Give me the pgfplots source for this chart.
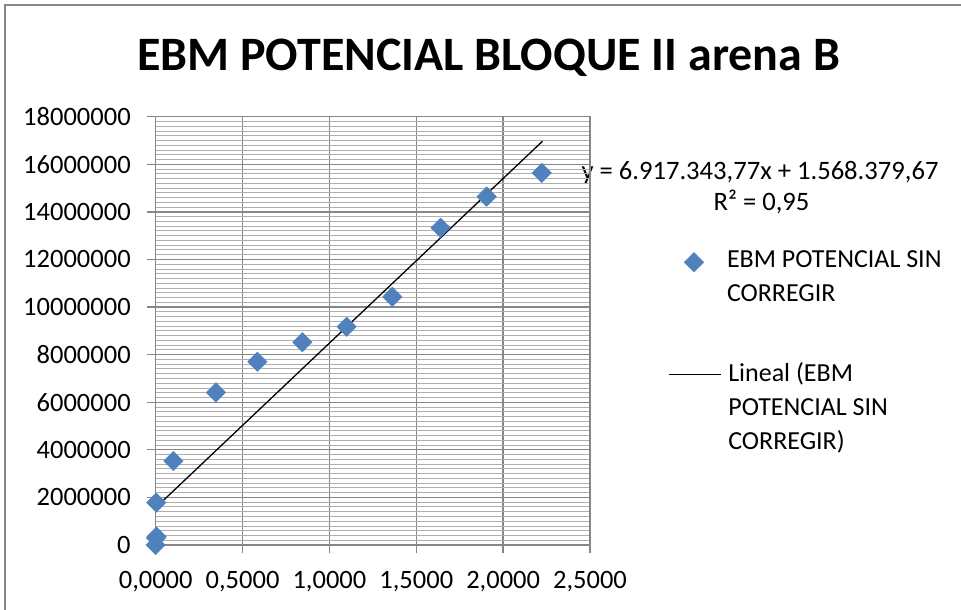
\documentclass[border=0pt]{standalone}
\usepackage{pgfplots}
\pgfplotsset{compat=1.18}
\usepackage{fontspec}
\setmainfont{Carlito}
\definecolor{xlblue}{RGB}{79,129,189}
\definecolor{xlgrid}{RGB}{134,134,134}
\definecolor{xlminor}{RGB}{175,175,175}
\pgfplotsset{
  dotlegend/.style={legend image code/.code={%
    \path[draw=none, fill=none] (0pt,5.5pt) (52pt,5.5pt);
    \draw[mark repeat=2, mark phase=2, ##1] plot coordinates {(0pt,5.5pt) (26pt,5.5pt) (52pt,5.5pt)};}},
  linelegend/.style={legend image code/.code={\draw[##1] (0pt,7pt) -- (52pt,7pt);}},
  xlframe/.style={at={(155.7pt,65pt)}, anchor=south west, scale only axis,
    width=434.3pt, height=428.3pt,
    xmin=0, xmax=2.5, ymin=0, ymax=18000000},
  xllegend/.style={legend style={
    at={(1.1796,#1)}, anchor=north west,
    draw=none, fill=none, inner sep=0pt, outer sep=0pt,
    font=\fontsize{26}{34}\selectfont,
    column sep=7pt, cells={anchor=base west}, nodes={inner sep=0pt}}},
}
\begin{document}
\begin{tikzpicture}[x=1pt,y=1pt]
  \useasboundingbox (0,0) rectangle (961,610);
  \clip (0,0) rectangle (961,610);
  % chart frame (right and bottom edges cut off)
  \draw[xlgrid, line width=1.2pt] (5,-20) -- (5,605) -- (990,605);
  % title
  \node[anchor=base, font=\fontsize{48}{56}\selectfont\bfseries, inner sep=0pt]
    at (488.5,539) {EBM POTENCIAL BLOQUE II arena B};
  % trendline equation
  \node[anchor=base, font=\fontsize{26.6}{32}\selectfont, inner sep=0pt]
    at (760,430) {y = 6.917.343,77x + 1.568.379,67};
  \node[anchor=base, font=\fontsize{26.6}{32}\selectfont, inner sep=0pt]
    at (761.5,399) {R² = 0,95};
  \begin{axis}[
      xlframe,
      xtick={0,0.5,...,2.5},
      ytick={0,2000000,...,18000000},
      minor y tick num=9,
      scaled ticks=false,
      grid=both,
      major grid style={xlgrid, line width=1.3pt},
      minor grid style={xlminor, line width=0.9pt},
      axis line style={xlgrid, line width=1.3pt},
      tick style={xlgrid, line width=1.3pt},
      minor tick length=0pt,
      major tick length=8.5pt,
      tick align=outside,
      xtick pos=bottom, ytick pos=left,
      ticklabel style={font=\fontsize{26.5}{32}\selectfont},
      /pgf/number format/assume math mode=true,
      xticklabel style={yshift=-14pt, /pgf/number format/.cd, fixed, fixed zerofill, precision=4, use comma},
      yticklabel style={xshift=-13pt, /pgf/number format/.cd, fixed, 1000 sep={}},
      xllegend=0.7028,
      clip=false,
    ]
    \addplot[only marks, mark=square*, mark size=6.9pt,
      mark options={rotate=45, fill=xlblue, draw=xlblue}, dotlegend]
      coordinates {
        (0.000,0) (0.002,300000) (0.005,350000) (0.003,1780000)
        (0.102,3530000) (0.347,6410000) (0.585,7700000) (0.844,8520000)
        (1.099,9170000) (1.362,10430000) (1.640,13330000) (1.905,14640000)
        (2.222,15640000)
      };
    \addlegendentry{\begin{tabular}[t]{@{}l@{}}EBM POTENCIAL SIN\\CORREGIR\end{tabular}}
    % linear trendline
    \addplot[black, line width=1.3pt, no marks, forget plot]
      coordinates {(0,1568379.67) (2.226,16966446.4)};
  \end{axis}
  % second, hidden axis only for the trendline's legend entry
  \begin{axis}[xlframe, hide axis, xllegend=0.4366]
    \addlegendimage{black, line width=1.3pt, linelegend}
    \addlegendentry{\begin{tabular}[t]{@{}l@{}}Lineal (EBM\\POTENCIAL SIN\\CORREGIR)\end{tabular}}
  \end{axis}
\end{tikzpicture}
\end{document}
